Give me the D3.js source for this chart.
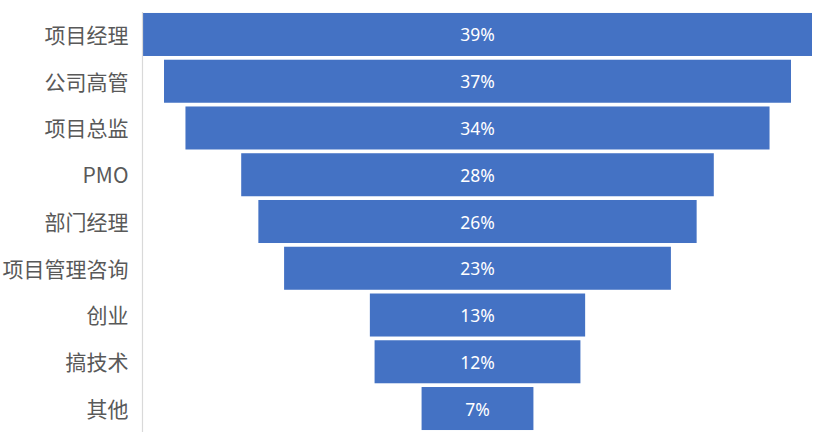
<!DOCTYPE html>
<html><head><meta charset="utf-8">
<script src="https://cdn.jsdelivr.net/npm/d3@7"></script>
<style>html,body{margin:0;padding:0;background:#fff;}</style>
</head><body>
<svg id="c" width="823" height="435"></svg>
<script>
const categories = ["项目经理","公司高管","项目总监","PMO","部门经理","项目管理咨询","创业","搞技术","其他"];
const values = [0.39, 0.3655, 0.3405, 0.2755, 0.2555, 0.2255, 0.1255, 0.120, 0.0652];

const svg = d3.select("#c");
const maxV = d3.max(values);
const x = d3.scaleLinear().domain([-maxV/2, maxV/2]).range([143, 812]);
const y = d3.scaleBand().domain(categories).range([11.1, 431.9]).paddingInner(0.08).paddingOuter(0.04);
const fmt = d3.format(".0%");

svg.append("g").selectAll("rect").data(values).join("rect")
  .attr("x", d => x(-d/2))
  .attr("width", d => x(d/2) - x(-d/2))
  .attr("y", (d,i) => y(categories[i]))
  .attr("height", y.bandwidth())
  .attr("fill", "#4472C4");

svg.append("g").selectAll("text").data(values).join("text")
  .attr("x", x(0))
  .attr("y", (d,i) => y(categories[i]) + y.bandwidth()/2)
  .attr("text-anchor", "middle")
  .attr("dominant-baseline", "central")
  .attr("fill", "#fff")
  .attr("font-family", "'Noto Sans', 'Liberation Sans', sans-serif")
  .attr("font-size", 17.5)
  .text(d => fmt(d));

const axis = d3.axisLeft(y).tickSize(0).tickPadding(14);
const ag = svg.append("g").attr("transform", "translate(142.5,0)").call(axis);
ag.select(".domain").attr("stroke", "#d9d9d9").attr("stroke-width", 1.2).attr("d", "M0,12V432");
ag.selectAll("text")
  .attr("fill", "#595959")
  .attr("font-family", "'Noto Sans CJK SC', 'Noto Sans', sans-serif")
  .attr("font-size", 21)
  .attr("dy", "0.4em");
</script>
</body></html>
